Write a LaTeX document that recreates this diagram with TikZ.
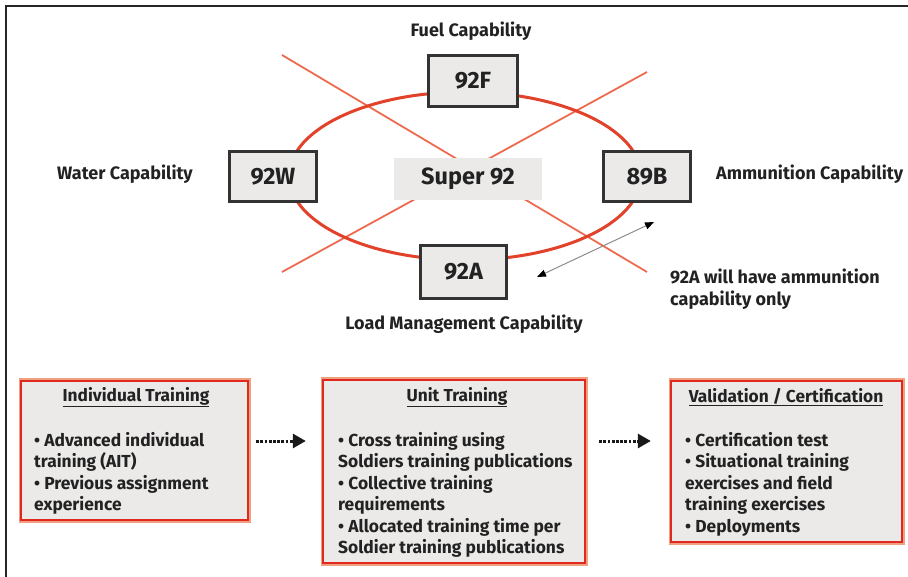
\documentclass[tikz,border=0pt]{standalone}
\usepackage{fontspec}
\setmainfont{Fira Sans}
\usetikzlibrary{arrows.meta,shadows}
\definecolor{ringred}{HTML}{E2412A}
\definecolor{xred}{HTML}{EE6A4E}
\definecolor{boxred}{HTML}{E0291E}
\definecolor{boxglow}{HTML}{F0A080}
\definecolor{boxfill}{HTML}{EBEAE9}
\definecolor{txtc}{HTML}{222222}
\begin{document}
\begin{tikzpicture}[x=1pt,y=-1pt,
  lbl/.style={font=\bfseries\fontsize{18}{20}\selectfont, text=txtc, inner sep=0pt},
  codebox/.style={draw=black!80, line width=2.6pt, fill=boxfill, inner sep=0pt,
    font=\bfseries\fontsize{23.5}{26}\selectfont, text=txtc,
    drop shadow={shadow xshift=1.2pt, shadow yshift=-1.2pt, fill=black!45, opacity=0.6}},
  trainbox/.style={draw=boxred, line width=2.4pt, fill=boxfill, inner sep=0pt},
  glow/.style={draw=boxglow, line width=5pt},
  title/.style={font=\bfseries\fontsize{17.3}{19}\selectfont, text=txtc, inner sep=0pt},
  body/.style={font=\bfseries\fontsize{17.4}{21.5}\selectfont, text=txtc, inner sep=0pt, align=left},
  xline/.style={draw=xred, line width=1.8pt},
  dotarrow/.style={draw=black!90, line width=3pt, dash pattern=on 2.8pt off 1.4pt,
    -{Triangle[length=13pt,width=14pt]}},
  dblarrow/.style={draw=black!45, line width=1pt,
    {Triangle[length=9pt,width=7pt,color=black]}-{Triangle[length=9pt,width=7pt,color=black]}}
]
\useasboundingbox (0,0) rectangle (908,577);
% frame
\draw[line width=2.6pt, black!85] (6,577) -- (6,6) -- (908,6);

% cross lines
\coordinate (x1a) at (282,55);  \coordinate (x1b) at (647,272);
\coordinate (x2a) at (647,72);  \coordinate (x2b) at (282,272);
\draw[xline] (x1a) -- (x1b);
\draw[xline] (x2a) -- (x2b);

% ring
\draw[draw=ringred, line width=3pt] (465,176) ellipse [x radius=176pt, y radius=84pt];

% centre
\node[fill=boxfill, minimum width=148pt, minimum height=42pt, inner sep=0pt,
  font=\bfseries\fontsize{23.5}{26}\selectfont, text=txtc] (super) at (468,179) {Super 92};

% code boxes
\node[codebox, minimum width=89pt, minimum height=51pt] (f92) at (473,81) {92F};
\node[codebox, minimum width=87pt, minimum height=50pt] (w92) at (273,176.5) {92W};
\node[codebox, minimum width=87pt, minimum height=50pt] (b89) at (647,176.5) {89B};
\node[codebox, minimum width=86pt, minimum height=53pt] (a92) at (463.5,272) {92A};

% labels
\node[lbl] (fuel) at (471,31) {Fuel Capability};
\node[lbl] (water) at (125,174) {Water Capability};
\node[lbl, anchor=west] (ammo) at (716,174) {Ammunition Capability};
\node[lbl] (load) at (464,324) {Load Management Capability};
\node[lbl, anchor=north west, align=left, font=\bfseries\fontsize{18}{22}\selectfont] (note) at (670,269)
  {92A will have ammunition\\capability only};

% double arrow
\coordinate (da1) at (537,277);
\coordinate (da2) at (654,222);
\draw[dblarrow] (da1) -- (da2);

% training boxes
\draw[glow] (21,381) rectangle (248,520);
\node[trainbox, minimum width=227pt, minimum height=139pt] (ind) at (134.5,450.5) {};
\draw[glow] (323,380) rectangle (585,563);
\node[trainbox, minimum width=262pt, minimum height=183pt] (unit) at (454,471.5) {};
\draw[glow] (671,381) rectangle (902,542);
\node[trainbox, minimum width=231pt, minimum height=161pt] (val) at (786.5,461.5) {};

\node[title] (indt) at (136,397) {\underline{Individual Training}};
\node[title] (unitt) at (457,397) {\underline{Unit Training}};
\node[title] (valt) at (786,397) {\underline{Validation / Certification}};

\node[body, anchor=north west] (indb) at (34,432)
  {\textbullet\ Advanced individual\\training (AIT)\\\textbullet\ Previous assignment\\experience};
\node[body, anchor=north west] (unitb) at (338,432)
  {\textbullet\ Cross training using\\Soldiers training publications\\\textbullet\ Collective training\\requirements\\\textbullet\ Allocated training time per\\Soldier training publications};
\node[body, anchor=north west] (valb) at (685,432)
  {\textbullet\ Certification test\\\textbullet\ Situational training\\exercises and field\\training exercises\\\textbullet\ Deployments};

% dotted arrows
\draw[dotarrow] ([xshift=7pt]ind.east |- 0,441) -- ([xshift=-16pt]unit.west |- 0,441);
\draw[dotarrow] ([xshift=13pt]unit.east |- 0,441) -- ([xshift=-19pt]val.west |- 0,441);
\end{tikzpicture}
\end{document}
